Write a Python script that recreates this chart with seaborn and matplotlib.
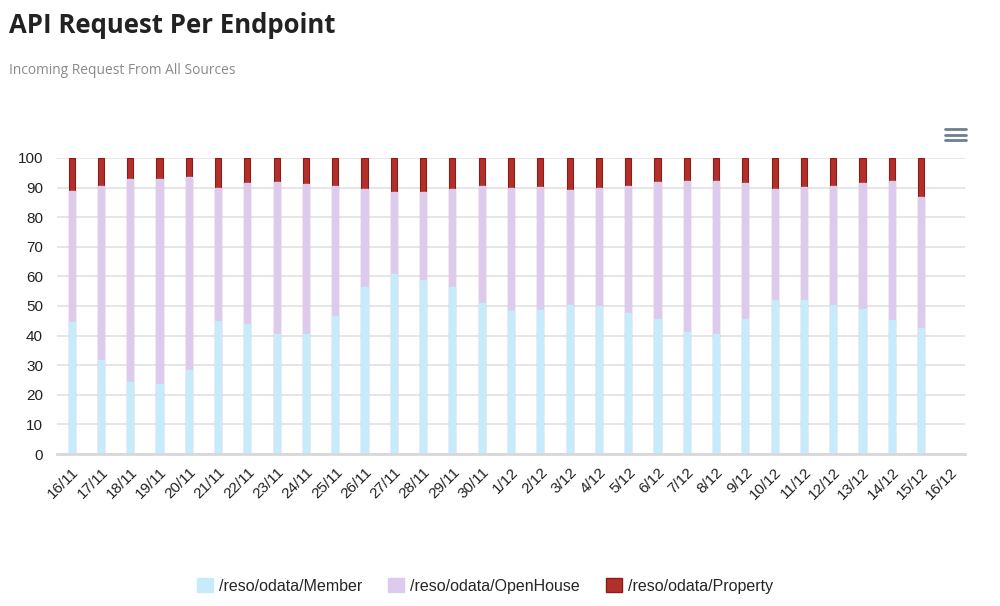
import numpy as np
import pandas as pd
import matplotlib
matplotlib.use("Agg")
import matplotlib.pyplot as plt
import seaborn as sns
from matplotlib.patches import Patch
from matplotlib.lines import Line2D


dates = ['16/11', '17/11', '18/11', '19/11', '20/11', '21/11', '22/11', '23/11',
         '24/11', '25/11', '26/11', '27/11', '28/11', '29/11', '30/11', '1/12',
         '2/12', '3/12', '4/12', '5/12', '6/12', '7/12', '8/12', '9/12', '10/12',
         '11/12', '12/12', '13/12', '14/12', '15/12', '16/12']

# percent share per day (16/12 has no data yet)
member = [44.6, 31.9, 24.3, 23.6, 28.4, 45.0, 43.8, 40.7, 40.4, 46.6,
          56.5, 60.7, 58.8, 56.5, 51.0, 48.3, 48.6, 50.3, 49.9, 47.6,
          45.6, 41.3, 40.7, 45.6, 52.0, 52.0, 50.3, 49.0, 45.3, 42.6]
openhouse = [44.1, 58.8, 68.6, 69.3, 65.1, 44.9, 47.9, 51.3, 50.8, 44.1,
             33.0, 27.7, 29.8, 33.0, 39.4, 41.5, 41.6, 38.9, 39.9, 42.8,
             46.2, 51.0, 51.5, 46.0, 37.6, 38.1, 40.1, 42.6, 46.8, 44.2]
prop = [11.3, 9.3, 7.1, 7.1, 6.5, 10.1, 8.3, 8.0, 8.8, 9.3,
        10.5, 11.6, 11.4, 10.5, 9.6, 10.2, 9.8, 10.8, 10.2, 9.6,
        8.2, 7.7, 7.8, 8.4, 10.4, 9.9, 9.6, 8.4, 7.9, 13.2]

series = ['/reso/odata/Member', '/reso/odata/OpenHouse', '/reso/odata/Property']
colors = ['#c6ecfb', '#dccbec', '#b3302a']
red_edge = '#8a1d18'

df = pd.DataFrame({'date': dates[:len(member)], 'member': member,
                   'openhouse': openhouse, 'prop': prop})
df['lvl2'] = df['member'] + df['openhouse']
df['lvl3'] = df['lvl2'] + df['prop']

sns.set_style('white')
plt.rcParams['font.family'] = ['Liberation Sans', 'DejaVu Sans']

fig = plt.figure(figsize=(10, 6.06), dpi=100)
ax = fig.add_axes([0.057, 0.2508, 0.908, 0.4885])

w = 0.21
sns.barplot(data=df, x='date', y='lvl3', order=dates, color=colors[2], width=w,
            saturation=1, errorbar=None, edgecolor=red_edge, linewidth=0.8, ax=ax)
sns.barplot(data=df, x='date', y='lvl2', order=dates, color=colors[1], width=w,
            saturation=1, errorbar=None, edgecolor=colors[1], linewidth=1.0, ax=ax)
sns.barplot(data=df, x='date', y='member', order=dates, color=colors[0], width=w,
            saturation=1, errorbar=None, edgecolor=colors[0], linewidth=1.0, ax=ax)

ax.set_xlim(-0.5, len(dates) - 0.5)
ax.set_ylim(0, 100)
ax.set_yticks(range(0, 101, 10))
ax.yaxis.grid(True, color='#e3e0e6', linewidth=1.2)
ax.set_axisbelow(True)
ax.set_xlabel('')
ax.set_ylabel('')
for s in ['top', 'right', 'left']:
    ax.spines[s].set_visible(False)
ax.spines['bottom'].set_color('#d9d7db')
ax.spines['bottom'].set_linewidth(2)

ax.set_xticks(range(len(dates)))
ax.set_xticklabels(dates, rotation=45, ha='right', rotation_mode='anchor')
ax.set_xticks(np.arange(-0.5, len(dates)), minor=True)
ax.tick_params(axis='x', which='major', length=0, pad=8, labelsize=11, colors='#222222')
ax.tick_params(axis='x', which='minor', length=7, width=1, color='#d9d7db')
ax.tick_params(axis='y', length=0, pad=10, labelsize=11, colors='#222222')

fig.text(0.009, 0.958, 'API Request Per Endpoint', fontsize=18.5, fontweight='bold',
         family=['Open Sans', 'DejaVu Sans'], color='#222222', va='center')
fig.text(0.009, 0.883, 'Incoming Request From All Sources', fontsize=9.9,
         family=['Open Sans', 'DejaVu Sans'], color='#8a8a8a', va='center')

# menu icon
for yy in [0.787, 0.778, 0.769]:
    fig.add_artist(Line2D([0.945, 0.966], [yy, yy], color='#6e7f92', lw=2,
                          solid_capstyle='round'))

handles = [Patch(facecolor=colors[0], edgecolor=colors[0]),
           Patch(facecolor=colors[1], edgecolor=colors[1]),
           Patch(facecolor=colors[2], edgecolor=red_edge)]
fig.legend(handles, series, loc='center', bbox_to_anchor=(0.485, 0.033), ncol=3,
           frameon=False, fontsize=11.5, handlelength=1.0, handleheight=1.0,
           handletextpad=0.4, columnspacing=1.6)

fig.savefig('out.png', dpi=100, facecolor='white')
